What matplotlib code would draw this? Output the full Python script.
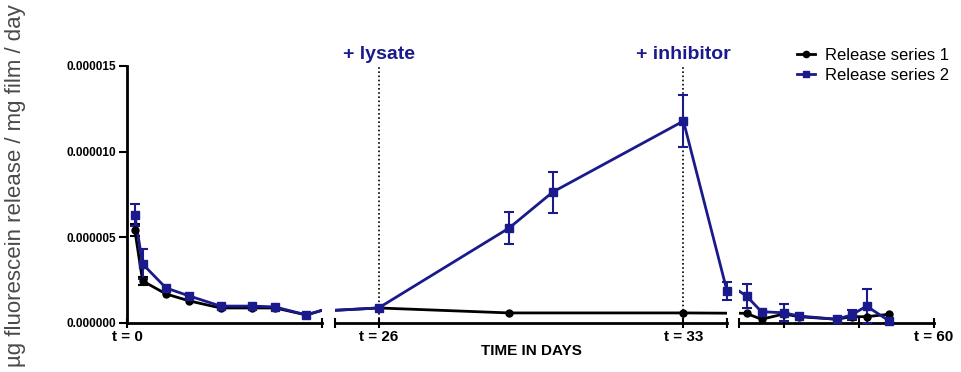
import numpy as np
import matplotlib
matplotlib.use('Agg')
import matplotlib.pyplot as plt

plt.rcParams['font.family'] = ['Liberation Sans', 'DejaVu Sans']

# release values in units of 1e-6 ug / mg film / day
days_1 = [1, 2, 5, 8, 12, 16, 19, 23, 26, 29, 33, 35, 37, 40, 42, 47, 49, 51, 54]
rel_1 = [5.41, 2.43, 1.67, 1.26, 0.85, 0.85, 0.85, 0.44, 0.85, 0.56, 0.56,
         0.53, 0.19, 0.50, 0.34, 0.19, 0.34, 0.34, 0.48]
err_1 = [0.35, 0.25, 0, 0, 0, 0, 0, 0, 0, 0, 0, 0, 0, 0, 0, 0, 0, 0, 0]

days_2 = [1, 2, 5, 8, 12, 16, 19, 23, 26, 29, 30, 33, 34, 35, 37, 40, 42, 47, 49, 51, 54]
rel_2 = [6.29, 3.42, 2.02, 1.55, 0.96, 0.96, 0.91, 0.44, 0.85, 5.53, 7.63, 11.78,
         1.84, 1.55, 0.63, 0.57, 0.38, 0.19, 0.44, 0.96, 0.10]
err_2 = [0.65, 0.85, 0, 0, 0, 0, 0, 0, 0, 0.93, 1.2, 1.5, 0.5, 0.72, 0, 0.5, 0,
         0, 0.3, 0.97, 0]

# broken time axis: day ranges shown in each panel
segments = [(0, 25), (25, 34), (34, 60)]
seg_ticks = [[0, 25], [25, 26, 33, 34], [34, 40, 50, 60]]
seg_labels = [['t = 0', ''], ['', 't = 26', 't = 33', ''], ['', '', '', 't = 60']]
events = [(26, '+ lysate'), (33, '+ inhibitor')]

navy = '#1a1a8c'
series = [
    ('Release series 1', days_1, rel_1, err_1, 'black', 'o', 5),
    ('Release series 2', days_2, rel_2, err_2, navy, 's', 5.5),
]

W, H = 961, 372
fig = plt.figure(figsize=(W / 100, H / 100), dpi=100)

edges = [(127, 322), (335, 727), (739, 934)]
y_top, y_bot = 66, 322.5
axes = []
for (x0, x1) in edges:
    ax = fig.add_axes([x0 / W, (H - y_bot) / H, (x1 - x0) / W, (y_bot - y_top) / H])
    ax.patch.set_alpha(0)
    axes.append(ax)

for i, ax in enumerate(axes):
    lo, hi = segments[i]
    for name, d, r, e, c, m, ms in series:
        d = np.array(d, dtype=float)
        r = np.array(r) * 1e-6
        e = np.array(e) * 1e-6
        # keep only the stretch of line that crosses this panel
        start = d[d <= lo].max() if (d <= lo).any() else d.min()
        stop = d[d >= hi].min() if (d >= hi).any() else d.max()
        seg = (d >= start) & (d <= stop)
        ax.plot(d[seg], r[seg], color=c, lw=2, solid_joinstyle='round', zorder=3)
        if i == 0:
            inside = (d >= lo) & (d <= hi)
        else:
            inside = (d > lo) & (d <= hi)
        has_err = inside & (e > 0)
        if has_err.any():
            eb = ax.errorbar(d[has_err], r[has_err], yerr=e[has_err], fmt='none',
                             ecolor=c, elinewidth=1.5, capsize=3.5, capthick=1.5,
                             zorder=3)
            for art in list(eb.lines[1]) + list(eb.lines[2]):
                art.set_clip_on(False)
        ax.plot(d[inside], r[inside], ls='none', marker=m, ms=ms, color=c,
                clip_on=False, zorder=4)

    ax.set_xlim(lo, hi)
    ax.set_ylim(0, 1.5e-5)
    ax.set_xticks(seg_ticks[i])
    ax.set_xticklabels(seg_labels[i], fontsize=11, fontweight='bold')
    ax.tick_params(axis='x', direction='inout', length=7, width=1.5, pad=2)
    for s in ['top', 'right']:
        ax.spines[s].set_visible(False)
    ax.spines['bottom'].set_linewidth(2)
    if i == 0:
        ax.spines['left'].set_linewidth(2)
        ax.set_yticks([0, 5e-6, 1e-5, 1.5e-5])
        ax.set_yticklabels(['%.6f' % v for v in [0, 5e-6, 1e-5, 1.5e-5]],
                           fontsize=8.5, fontweight='bold')
        ax.tick_params(axis='y', direction='out', length=6, width=1.5, pad=2)
    else:
        ax.spines['left'].set_visible(False)
        ax.set_yticks([])

ax2 = axes[1]
for day, label in events:
    ax2.axvline(day, color='black', ls=(0, (1, 1.5)), lw=1.2, zorder=1)
    ax2.annotate(label, xy=(day, 1), xycoords=('data', 'axes fraction'),
                 xytext=(0, 8), textcoords='offset points', ha='center',
                 va='center', fontsize=14, fontweight='bold', color=navy)
ax2.set_xlabel('TIME IN DAYS', fontsize=11, fontweight='bold', labelpad=0)

fig.text(16 / W, 0.5, 'µg fluorescein release / mg film / day', rotation=90,
         ha='center', va='center', fontsize=16, color='#4a4a4a')

handles = [plt.Line2D([], [], color=c, marker=m, ms=ms - 0.5, lw=2)
           for name, d, r, e, c, m, ms in series]
fig.legend(handles, [s[0] for s in series], loc='upper left',
           bbox_to_anchor=(797 / W, (H - 48) / H), frameon=False, fontsize=12,
           handlelength=1.1, handletextpad=0.6, labelspacing=0.3,
           borderpad=0, borderaxespad=0)

fig.savefig('out.png', dpi=100)
